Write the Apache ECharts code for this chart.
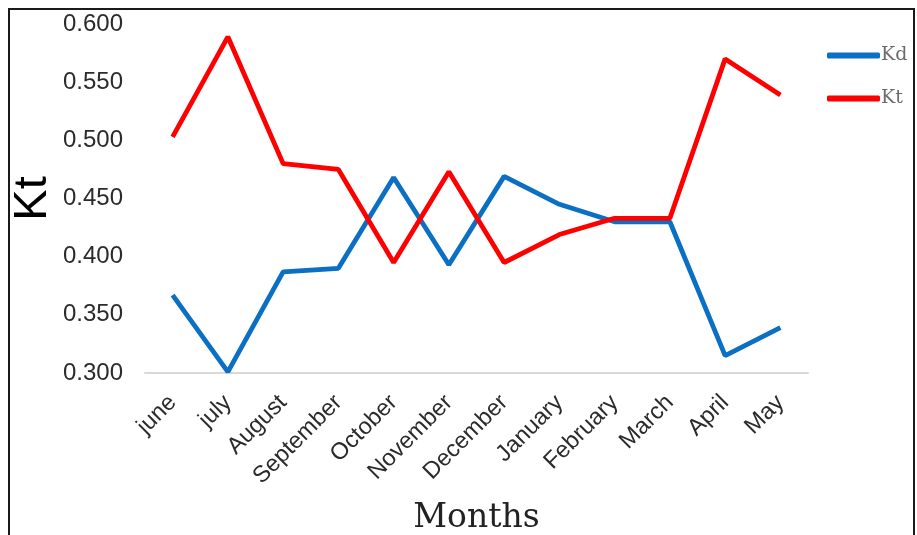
<!DOCTYPE html>
<html>
<head>
<meta charset="utf-8">
<script src="https://cdn.jsdelivr.net/npm/echarts@6/dist/echarts.min.js"></script>
<style>
  html, body { margin: 0; padding: 0; background: #fff; }
  #chart { width: 917px; height: 535px; }
</style>
</head>
<body>
<div id="chart"></div>
<script>
// Monthly Kd / Kt values
const months = ['june', 'july', 'August', 'September', 'October', 'November',
                'December', 'January', 'February', 'March', 'April', 'May'];
const kd = [0.367, 0.301, 0.387, 0.390, 0.468, 0.393, 0.469, 0.445, 0.430, 0.430, 0.315, 0.339];
const kt = [0.503, 0.589, 0.480, 0.475, 0.395, 0.473, 0.395, 0.419, 0.433, 0.433, 0.570, 0.539];
const yMin = 0.3, yMax = 0.6, yStep = 0.05;

const chart = echarts.init(document.getElementById('chart'), null, { renderer: 'canvas' });

chart.setOption({
  backgroundColor: '#ffffff',
  animation: false,
  graphic: [{
    type: 'rect',
    shape: { x: 9, y: 9, width: 905, height: 600 },
    style: { fill: 'none', stroke: '#1a1a1a', lineWidth: 2 },
    z: 100
  }],
  grid: {
    left: 145, right: 109, top: 24, bottom: 162,
    containLabel: false,
    outerBoundsMode: 'none'
  },
  legend: {
    orient: 'vertical',
    left: 827,
    top: 46,
    padding: 0,
    itemWidth: 53,
    itemHeight: 6,
    itemGap: 24,
    icon: 'roundRect',
    textStyle: { fontFamily: 'DejaVu Serif', fontSize: 19, color: '#6b6b6b', padding: [0, 0, 0, -4] },
    data: ['Kd', 'Kt']
  },
  xAxis: {
    type: 'category',
    data: months,
    boundaryGap: true,
    name: 'Months',
    nameLocation: 'middle',
    nameGap: 129,
    nameMoveOverlap: false,
    nameTextStyle: { fontFamily: 'DejaVu Serif', fontSize: 33, color: '#222' },
    axisLine: { lineStyle: { color: '#d9d9d9', width: 2 } },
    axisTick: { show: false },
    axisLabel: {
      rotate: 45,
      margin: 26,
      fontFamily: 'Liberation Sans',
      fontSize: 23.5,
      color: '#2b2b2b'
    }
  },
  yAxis: {
    type: 'value',
    min: yMin,
    max: yMax,
    interval: yStep,
    name: 'Kt',
    nameLocation: 'middle',
    nameGap: 88,
    nameMoveOverlap: false,
    nameRotate: 90,
    nameTextStyle: { fontFamily: 'Liberation Sans', fontSize: 47, color: '#000' },
    axisLine: { show: false },
    axisTick: { show: false },
    splitLine: { show: false },
    axisLabel: {
      margin: 22,
      fontFamily: 'Liberation Sans',
      fontSize: 24,
      color: '#2b2b2b',
      formatter: v => v.toFixed(3)
    }
  },
  series: [
    {
      name: 'Kd',
      type: 'line',
      data: kd,
      symbol: 'none',
      lineStyle: { color: '#0b6fc4', width: 4.8 },
      itemStyle: { color: '#0b6fc4' }
    },
    {
      name: 'Kt',
      type: 'line',
      data: kt,
      symbol: 'none',
      lineStyle: { color: '#ff0000', width: 4.8 },
      itemStyle: { color: '#ff0000' }
    }
  ]
});
</script>
</body>
</html>
